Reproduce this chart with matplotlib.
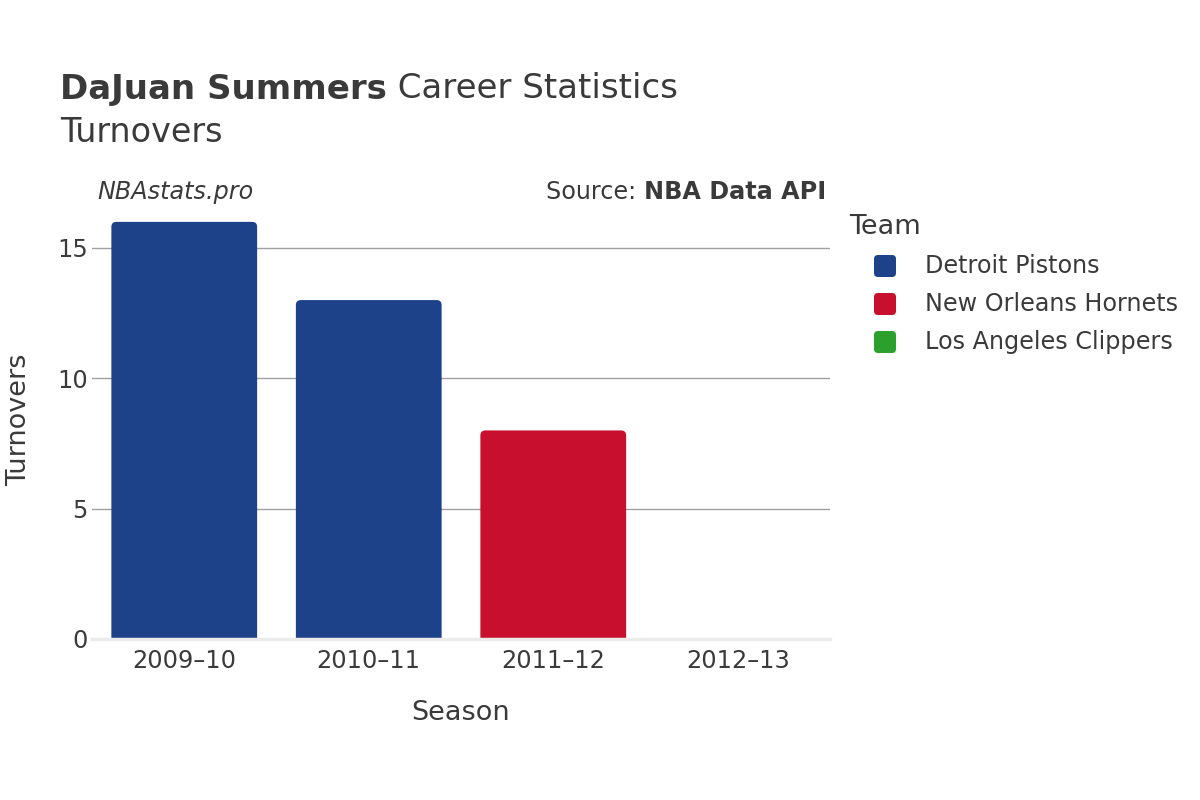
import matplotlib
matplotlib.use("Agg")
import matplotlib.pyplot as plt
from matplotlib.patches import FancyBboxPatch

plt.rcParams['font.family'] = ['DejaVu Sans']

seasons = ["2009–10", "2010–11", "2011–12", "2012–13"]
teams = ["Detroit Pistons", "Detroit Pistons", "New Orleans Hornets", "Los Angeles Clippers"]
turnovers = [16, 13, 8, 0]
legend_teams = ["Detroit Pistons", "New Orleans Hornets", "Los Angeles Clippers"]
team_colors = {"Detroit Pistons": "#1d428a",
               "New Orleans Hornets": "#c8102e",
               "Los Angeles Clippers": "#2ca02c"}
yticks = [0, 5, 10, 15]

TXT = "#3a3a3a"
W, H = 1200, 800
fig = plt.figure(figsize=(12, 8), dpi=100)
L, R, B, T = 92, 830, 639, 201
ax = fig.add_axes([L / W, 1 - B / H, (R - L) / W, (B - T) / H])
ax.set_xlim(-0.5, len(seasons) - 0.5)
ax.set_ylim(0, 16.8)

for s in ax.spines.values():
    s.set_visible(False)
ax.set_yticks(yticks)
ax.set_yticklabels([str(v) for v in yticks])
ax.tick_params(axis='y', length=0, pad=3, labelsize=17.3, labelcolor=TXT)
ax.tick_params(axis='x', length=0, pad=7, labelsize=17.3, labelcolor=TXT)
for v in yticks[1:]:
    ax.axhline(v, color="#a0a0a0", lw=1.0, zorder=0)

xs = list(range(len(seasons)))
bars = ax.bar(xs, turnovers, width=0.79, color=[team_colors[t] for t in teams], zorder=2)
ax.set_xticks(xs)
ax.set_xticklabels(seasons)

# convert to rounded-top bars
px_x = (R - L) / (len(seasons))   # pixels per x unit
px_y = (B - T) / 16.8            # pixels per y unit
rad_px = 5
for rect in list(bars.patches):
    x0, y0 = rect.get_x(), rect.get_y()
    w, h = rect.get_width(), rect.get_height()
    col = rect.get_facecolor()
    rect.set_visible(False)
    if h <= 0:
        continue
    ext = rad_px / px_y
    p = FancyBboxPatch((x0, y0 - ext), w, h + ext,
                       boxstyle=f"round,pad=0,rounding_size={rad_px / px_x}",
                       mutation_aspect=px_x / px_y,
                       facecolor=col, edgecolor='none', zorder=2)
    ax.add_patch(p)

ax.axhline(0, color="#ebebeb", lw=2.5, zorder=3, clip_on=False)

ax.set_xlabel("Season", fontsize=19.5, color=TXT, labelpad=20)
ax.set_ylabel("Turnovers", fontsize=19.5, color=TXT, labelpad=18)

fig.canvas.draw()
r = fig.canvas.get_renderer()

# title
t1 = fig.text(60 / W, 1 - 89 / H, "DaJuan Summers", fontsize=24.5, fontweight='bold',
              color=TXT, va='center', ha='left')
bb = t1.get_window_extent(renderer=r)
fig.text(bb.x1 / W, 1 - 89 / H, " Career Statistics", fontsize=24.5, color=TXT,
         va='center', ha='left')
fig.text(60 / W, 1 - 132 / H, "Turnovers", fontsize=24, color=TXT, va='center', ha='left')

fig.text(97 / W, 1 - 192 / H, "NBAstats.pro", fontsize=17.2, style='italic', color=TXT,
         va='center', ha='left')
s2 = fig.text(826 / W, 1 - 192 / H, "NBA Data API", fontsize=17.2, fontweight='bold',
              color=TXT, va='center', ha='right')
bb2 = s2.get_window_extent(renderer=r)
fig.text(bb2.x0 / W, 1 - 192 / H, "Source: ", fontsize=17.2, color=TXT, va='center', ha='right')

# legend
fig.text(849 / W, 1 - 227 / H, "Team", fontsize=19.5, color=TXT, va='center', ha='left')
for i, tm in enumerate(legend_teams):
    yc = 266 + 38 * i
    sq = 22
    p = FancyBboxPatch(((885 - sq / 2) / W, 1 - (yc + sq / 2) / H), sq / W, sq / H,
                       boxstyle=f"round,pad=0,rounding_size={4 / W}",
                       mutation_aspect=W / H,
                       transform=fig.transFigure, facecolor=team_colors[tm],
                       edgecolor='none')
    fig.patches.append(p)
    fig.text(925 / W, 1 - yc / H, tm, fontsize=17.2, color=TXT, va='center', ha='left')

fig.savefig("out.png", dpi=100, facecolor="white")
